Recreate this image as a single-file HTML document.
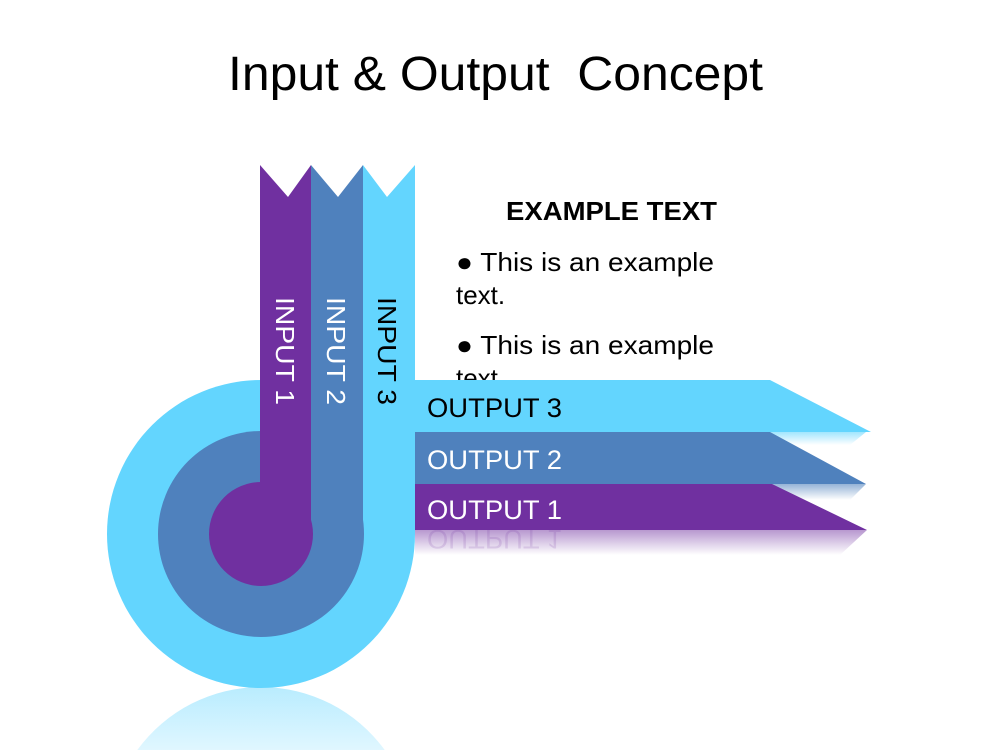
<!DOCTYPE html>
<html><head><meta charset="utf-8"><style>
html,body{margin:0;padding:0;background:#fff;width:1000px;height:750px;overflow:hidden;}
svg{display:block;}
</style></head><body>
<svg width="1000" height="750" viewBox="0 0 1000 750" xmlns="http://www.w3.org/2000/svg" font-family="Liberation Sans, sans-serif">
<defs>
<linearGradient id="refl" x1="0" y1="0" x2="0" y2="1">
<stop offset="0" stop-color="#63d5fe" stop-opacity="0.45"/>
<stop offset="1" stop-color="#63d5fe" stop-opacity="0.2"/>
</linearGradient>
<linearGradient id="r3" x1="0" y1="0" x2="0" y2="1">
<stop offset="0" stop-color="#63d5fe" stop-opacity="0.6"/>
<stop offset="1" stop-color="#63d5fe" stop-opacity="0"/>
</linearGradient>
<linearGradient id="r2" x1="0" y1="0" x2="0" y2="1">
<stop offset="0" stop-color="#4f81bd" stop-opacity="0.6"/>
<stop offset="1" stop-color="#4f81bd" stop-opacity="0"/>
</linearGradient>
<linearGradient id="r1" x1="0" y1="0" x2="0" y2="1">
<stop offset="0" stop-color="#7030a0" stop-opacity="0.5"/>
<stop offset="1" stop-color="#7030a0" stop-opacity="0"/>
</linearGradient>
</defs>

<text x="228" y="90" font-size="48" xml:space="preserve" textLength="535" lengthAdjust="spacingAndGlyphs">Input &amp; Output  Concept</text>

<text x="506" y="220" font-size="26" font-weight="bold" textLength="211" lengthAdjust="spacingAndGlyphs">EXAMPLE TEXT</text>
<text x="456" y="271" font-size="26" textLength="258" lengthAdjust="spacingAndGlyphs">● This is an example</text>
<text x="456" y="304" font-size="26">text.</text>
<text x="456" y="354" font-size="26" textLength="258" lengthAdjust="spacingAndGlyphs">● This is an example</text>
<text x="456" y="387" font-size="26">text.</text>

<path d="M137.3,750 A153,153 0 0 1 384.7,750 Z" fill="url(#refl)"/>

<circle cx="261" cy="534" r="154" fill="#63d5fe"/>
<polygon points="363,165 387,197 415,165 415,535 363,535" fill="#63d5fe"/>
<circle cx="261" cy="534" r="103" fill="#4f81bd"/>
<polygon points="311,165 338,197 363,165 363,535 311,535" fill="#4f81bd"/>
<circle cx="261" cy="534" r="52" fill="#7030a0"/>
<polygon points="260,165 288,197 311,165 311,535 260,535" fill="#7030a0"/>

<polygon points="415,432 866,432 850,445 415,445" fill="url(#r3)"/>
<polygon points="415,484 866,484 850,500 415,500" fill="url(#r2)"/>
<polygon points="415,530 867,530 840,555 415,555" fill="url(#r1)"/>
<text x="427" y="554" font-size="27" fill="#7030a0" opacity="0.15" transform="translate(0,1084) scale(1,-1)" textLength="135" lengthAdjust="spacingAndGlyphs">OUTPUT 1</text>

<polygon points="415,380 770,380 871,432 415,432" fill="#63d5fe"/>
<polygon points="415,432 770,432 866,484 415,484" fill="#4f81bd"/>
<polygon points="415,484 772,484 867,530 415,530" fill="#7030a0"/>

<text x="427" y="417" font-size="27" fill="#000" textLength="135" lengthAdjust="spacingAndGlyphs">OUTPUT 3</text>
<text x="427" y="469" font-size="27" fill="#fff" textLength="135" lengthAdjust="spacingAndGlyphs">OUTPUT 2</text>
<text x="427" y="519" font-size="27" fill="#fff" textLength="135" lengthAdjust="spacingAndGlyphs">OUTPUT 1</text>

<text transform="translate(276,297) rotate(90)" font-size="26" fill="#fff" textLength="108" lengthAdjust="spacingAndGlyphs">INPUT 1</text>
<text transform="translate(327,297) rotate(90)" font-size="26" fill="#fff" textLength="108" lengthAdjust="spacingAndGlyphs">INPUT 2</text>
<text transform="translate(378,297) rotate(90)" font-size="26" fill="#000" textLength="108" lengthAdjust="spacingAndGlyphs">INPUT 3</text>
</svg>
</body></html>
